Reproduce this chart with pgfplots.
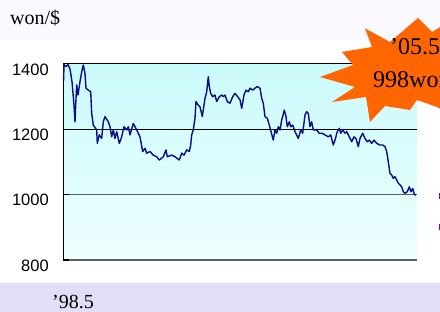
\documentclass[border=0pt]{standalone}
\usepackage{pgfplots}
\pgfplotsset{compat=1.18}
\usepackage{fontspec}
\setmainfont{Liberation Serif}
\newfontfamily\arial{Liberation Sans}
\definecolor{topband}{RGB}{250,250,254}
\definecolor{lav}{RGB}{225,222,247}
\definecolor{bgtop}{RGB}{202,250,251}
\definecolor{bgbot}{RGB}{238,255,255}
\definecolor{navyline}{RGB}{12,12,135}
\definecolor{burst}{RGB}{255,102,0}
\definecolor{gridgray}{RGB}{95,95,95}
\begin{document}
\begin{tikzpicture}[x=1pt,y=1pt]
\path[use as bounding box, clip] (0,0) rectangle (440,312);
\fill[white] (0,0) rectangle (440,312);
\fill[topband] (0,272) rectangle (440,312);
\fill[lav] (0,0) rectangle (440,29);
\begin{axis}[
  at={(63.3pt,52pt)}, anchor=south west,
  scale only axis, width=353.4pt, height=196pt,
  xmin=63.3, xmax=416.7, ymin=800, ymax=1400,
  axis line style={draw=none},
  xtick=\empty, ytick={800,1000,1200,1400},
  major tick length=0pt,
  /pgf/number format/assume math mode=true,
  /pgf/number format/set thousands separator={},
  yticklabel style={font=\arial\fontsize{16.5}{16.5}\selectfont, yshift=-5.5pt, xshift=-11pt},
  axis background/.style={top color=bgtop, bottom color=bgbot},
  clip=false,
]
\draw[black, line width=1pt] (axis cs:63.3,1400) -- (axis cs:416.7,1400);
\draw[black, line width=0.9pt] (axis cs:63.3,1200) -- (axis cs:416.7,1200);
\draw[gridgray, line width=0.9pt] (axis cs:63.3,1000) -- (axis cs:416.7,1000);
\draw[gridgray, line width=1.4pt] (axis cs:63.3,800) -- (axis cs:416.7,800);
\draw[black, line width=1.2pt] (axis cs:63.3,1000) -- (axis cs:69.5,1000);
\draw[black, line width=1.4pt] (axis cs:63.3,800) -- (axis cs:69.5,800);
\draw[black, line width=1.1pt] (axis cs:63.3,800) -- (axis cs:63.3,1400);
\addplot[navyline, line width=1.4pt, mark=none, line join=round] coordinates {
(63.6,1350) (64,1398) (66,1392) (68,1398) (70,1385) (72,1346) (74,1274) (75,1223)
(76,1295) (76.7,1336) (78,1305) (80,1346) (81.7,1376) (83.3,1397) (85,1371) (86,1326)
(88.3,1320) (90.7,1315) (91.7,1249) (93.3,1213) (96.7,1198) (97.3,1157) (99.3,1183)
(101.7,1172) (103.3,1223) (105,1239) (108.3,1223) (110,1208) (111.7,1177) (113.3,1198)
(115,1172) (116.7,1193) (119.3,1157) (121.7,1177) (124,1208) (126.7,1198) (128.3,1208)
(130,1183) (133.3,1218) (136.7,1198) (140,1177) (142.7,1132) (145,1142) (146.7,1127)
(150,1132) (153.3,1121) (156.7,1116) (159.3,1106) (163.3,1116) (166,1137) (167.3,1116)
(171.7,1121) (175,1116) (179.3,1106) (181.7,1127) (184,1121) (186.7,1137) (189.3,1132)
(190.7,1152) (191.7,1183) (193.3,1198) (195,1234) (196,1285) (198.3,1274) (200,1269)
(202.3,1239) (205,1295) (206.7,1315) (208.3,1361) (209.3,1331) (210.7,1310) (212.7,1300)
(215,1305) (216.7,1285) (219.3,1300) (221.7,1305) (223.3,1300) (225,1305) (227.3,1285)
(230,1280) (232.7,1300) (235,1310) (237.7,1300) (240,1290) (241.7,1264) (244,1305)
(246,1320) (248.3,1315) (250,1326) (252.7,1320) (255,1326) (257.3,1331) (260,1326)
(261.7,1295) (263.3,1280) (265,1239) (267.3,1234) (269.3,1213) (271,1193) (273.3,1167)
(275,1198) (276.7,1188) (278.3,1208) (280,1198) (281.7,1229) (282.7,1239) (284.3,1259)
(286,1239) (287.3,1208) (289.3,1223) (290.7,1208) (292.7,1213) (295,1193) (298.3,1172)
(300.7,1198) (302.7,1188) (305,1244) (306.7,1254) (308.3,1249) (310,1208) (311.7,1223)
(313.3,1198) (316.7,1198) (319.3,1188) (321.7,1188) (325,1183) (328.3,1177) (330.7,1183)
(333.3,1152) (335,1167) (337.3,1193) (339.3,1203) (340.7,1188) (342.7,1198) (345,1188)
(346.7,1193) (349.3,1177) (351.7,1162) (354,1177) (356,1172) (358.3,1147) (360,1172)
(362.7,1188) (365,1172) (367.3,1162) (369.3,1167) (371.7,1157) (374,1167) (376.7,1157)
(380,1152) (382.7,1152) (385,1147) (386.7,1132) (388.3,1101) (390,1065) (391.7,1060)
(393.3,1050) (395,1055) (396.7,1045) (398.3,1035) (400,1030) (401.7,1024) (403.3,1009)
(405,1004) (407.3,1009) (409.3,1024) (411,1009) (412.7,1019) (414.3,1001) (416,998)
};
\end{axis}
\fill[burst] (365,283.7) -- (390,270) -- (418,294) -- (432,280) -- (460,297) -- (460,192)
  -- (437,205) -- (417,212) -- (410,202) -- (385,206) -- (370,190) -- (366,215)
  -- (332,210) -- (355,225) -- (320,235) -- (353,247) -- (342,260) -- (372,265) -- cycle;
\node[anchor=base west, inner sep=0pt, font=\fontsize{24}{24}\selectfont] at (390,257) {’05.5};
\node[anchor=base west, inner sep=0pt, font=\fontsize{24}{24}\selectfont] at (373,224.5) {998won};
\node[anchor=base west, inner sep=0pt, font=\fontsize{20}{20}\selectfont] at (10,287) {won/\$};
\node[anchor=base west, inner sep=0pt, font=\fontsize{20}{20}\selectfont] at (52,3) {’98.5};
\fill[violet] (439,113) rectangle (440,119);
\fill[violet] (439,82) rectangle (440,88);
\end{tikzpicture}
\end{document}
